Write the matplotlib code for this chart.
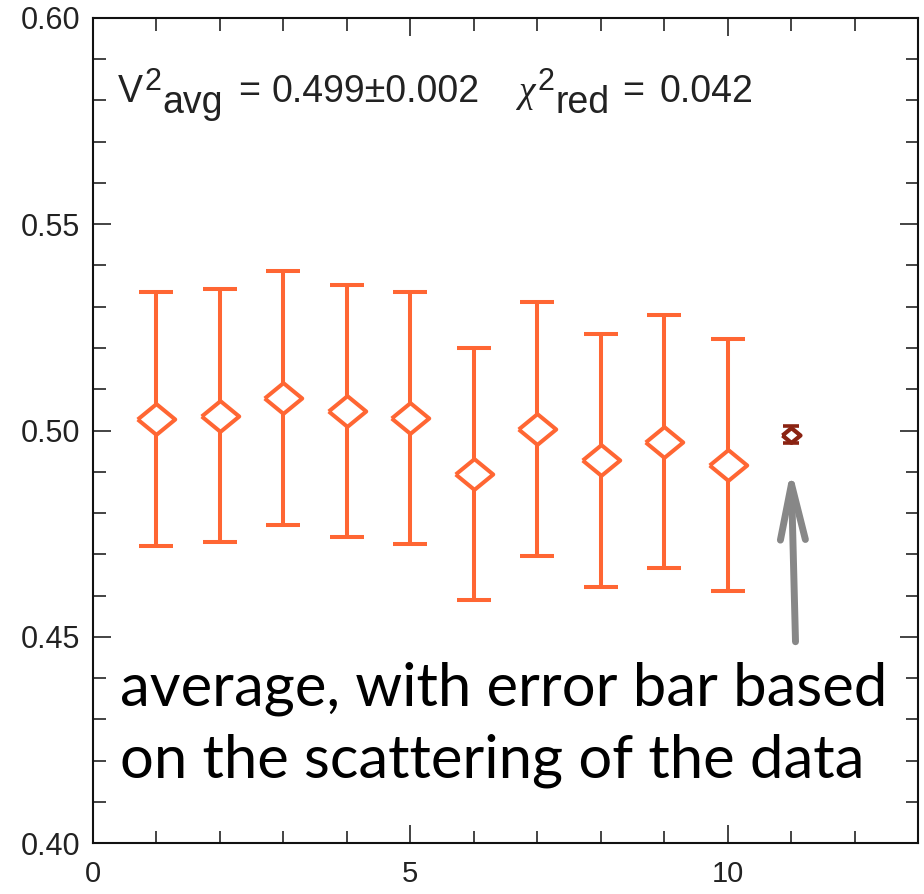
import matplotlib
matplotlib.use("Agg")
import matplotlib.pyplot as plt
from matplotlib.ticker import MultipleLocator, FormatStrFormatter
from matplotlib.transforms import offset_copy

plt.rcParams['font.family'] = 'Liberation Sans'

# squared visibility per measurement, with 1-sigma errors
obs = [1, 2, 3, 4, 5, 6, 7, 8, 9, 10]
v2 = [0.5027, 0.5036, 0.5079, 0.5047, 0.5030, 0.4894, 0.5004, 0.4928, 0.4973, 0.4917]
v2_err = [0.0308, 0.0306, 0.0307, 0.0305, 0.0305, 0.0305, 0.0307, 0.0307, 0.0306, 0.0306]

# weighted average of the set, error from the scatter
avg_x = [11]
avg_v2 = [0.499]
avg_err = [0.002]
chi2_red = 0.042

orange = '#FF6633'
darkred = '#8B2312'
diamond = [(-1, 0), (0, 0.82), (1, 0), (0, -0.82), (-1, 0)]

fig = plt.figure(figsize=(9.24, 8.94), dpi=100)
ax = fig.add_axes([0.1006, 0.0570, 0.8929, 0.9229])

ax.errorbar(obs, v2, yerr=v2_err, fmt='none', ecolor=orange, elinewidth=2.9,
            capsize=12.5, capthick=2.9, zorder=2)
ax.plot(obs, v2, linestyle='none', marker=diamond, markersize=27,
        markerfacecolor='white', markeredgecolor=orange, markeredgewidth=2.9, zorder=3)

ax.errorbar(avg_x, avg_v2, yerr=avg_err, fmt='none', ecolor=darkred, elinewidth=2.4,
            capsize=6, capthick=2.6, zorder=2)
ax.plot(avg_x, avg_v2, linestyle='none', marker=diamond, markersize=13,
        markerfacecolor='white', markeredgecolor=darkred, markeredgewidth=3, zorder=3)

ax.set_xlim(0, 13)
ax.set_ylim(0.40, 0.60)
ax.xaxis.set_major_locator(MultipleLocator(5))
ax.xaxis.set_minor_locator(MultipleLocator(1))
ax.yaxis.set_major_locator(MultipleLocator(0.05))
ax.yaxis.set_minor_locator(MultipleLocator(0.01))
ax.yaxis.set_major_formatter(FormatStrFormatter('%.2f'))

ax.tick_params(which='both', direction='in', top=True, right=True,
               labelcolor='#222222', width=1.1, color='#111111')
ax.tick_params(which='major', length=13)
ax.tick_params(which='minor', length=9)
ax.tick_params(axis='x', pad=12.5, labelsize=21)
ax.tick_params(axis='y', pad=9, labelsize=22)
for s in ax.spines.values():
    s.set_linewidth(1.5)
    s.set_color('#111111')

# fit summary, laid out piece by piece so sub/superscripts keep full size
# (text, fontsize, vertical shift px, gap before px, family)
summary = [
    ('V', 27, 0, 0, 'Liberation Sans'),
    ('2', 22, 12, 2, 'Liberation Sans'),
    ('avg', 27, -11, 1, 'Liberation Sans'),
    ('=', 27, 0, 15, 'Liberation Sans'),
    ('%.3f±%.3f' % (avg_v2[0], avg_err[0]), 27, 0, 11, 'Liberation Sans'),
    ('χ', 27, 0, 40, 'Liberation Serif'),
    ('2', 22, 12, 2, 'Liberation Sans'),
    ('red', 27, -11, 1, 'Liberation Sans'),
    ('=', 27, 0, 12, 'Liberation Sans'),
    ('%.3f' % chi2_red, 27, 0, 16, 'Liberation Sans'),
]
fig.canvas.draw()
renderer = fig.canvas.get_renderer()
cursor = 0.0
for txt, size, dy, gap, fam in summary:
    cursor += gap
    tr = offset_copy(ax.transAxes, fig=fig, x=cursor, y=dy, units='dots')
    t = ax.text(0.030, 0.898, txt, transform=tr, fontsize=size, family=fam,
                style='italic' if txt == 'χ' else 'normal',
                color='#222222', va='baseline', ha='left')
    cursor += t.get_window_extent(renderer).width

# pointer to the averaged point
ax.annotate('', xy=(avg_x[0], 0.4908), xytext=(11.07, 0.4488),
            arrowprops=dict(arrowstyle='->, head_length=2.0, head_width=0.45',
                            color='#878787', lw=5, mutation_scale=20,
                            shrinkA=0, shrinkB=0, capstyle='round'))

ax.text(0.033, 0.167, 'average, with error bar based', transform=ax.transAxes,
        fontsize=43, family='Lato', color='black', va='baseline')
ax.text(0.033, 0.079, 'on the scattering of the data', transform=ax.transAxes,
        fontsize=43, family='Lato', color='black', va='baseline')

fig.savefig('out.png', dpi=100)
